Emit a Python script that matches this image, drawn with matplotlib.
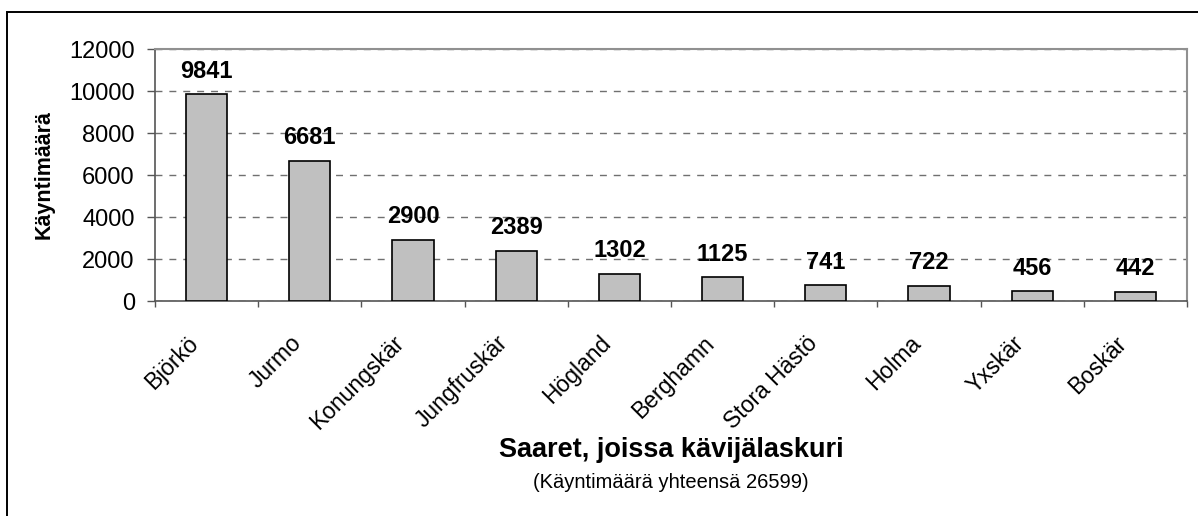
import numpy as np
import matplotlib
matplotlib.use("Agg")
import matplotlib.pyplot as plt
from matplotlib.patches import Rectangle
from matplotlib import transforms

plt.rcParams['font.family'] = ['Liberation Sans', 'DejaVu Sans']

# data
saaret = ['Björkö', 'Jurmo', 'Konungskär', 'Jungfruskär', 'Högland',
          'Berghamn', 'Stora Hästö', 'Holma', 'Yxskär', 'Boskär']
kaynnit = [9841, 6681, 2900, 2389, 1302, 1125, 741, 722, 456, 442]
yhteensa = 26599

W, H = 1198, 516
fig = plt.figure(figsize=(W / 100, H / 100), dpi=100)
ax = fig.add_axes([155 / W, 1 - 301 / H, (1187 - 155) / W, (301 - 49) / H])

x = np.arange(len(saaret))
ax.bar(x, kaynnit, width=0.4, color='#c0c0c0', edgecolor='black', linewidth=1.2, zorder=3)

for xi, v in zip(x, kaynnit):
    ax.annotate(str(v), xy=(xi, v), xytext=(0, 12), textcoords='offset points',
                ha='center', va='baseline', fontsize=17, fontweight='bold', zorder=4)

ax.set_xlim(-0.5, len(saaret) - 0.5)
ax.set_ylim(0, 12000)
ax.set_yticks(np.arange(0, 12001, 2000))
ax.tick_params(axis='y', labelsize=17, length=5.5, width=1, color='#555555', pad=9)

# x: labels at centres, ticks at category borders
ax.set_xticks(x)
ax.set_xticklabels(saaret, rotation=45, ha='right', fontsize=16.5)
ax.tick_params(axis='x', length=0, pad=22)
ax.set_xticks(np.arange(-0.5, len(saaret)), minor=True)
ax.tick_params(axis='x', which='minor', length=4, width=1, color='#555555')
shift = transforms.ScaledTranslation(-4 / 100, 0, fig.dpi_scale_trans)
for lab in ax.get_xticklabels():
    lab.set_transform(lab.get_transform() + shift)

ax.yaxis.grid(True, linestyle=(0, (5, 5)), color='#707070', linewidth=1, zorder=0)
ax.set_axisbelow(True)

for s in ['left', 'bottom']:
    ax.spines[s].set_color('#555555')
    ax.spines[s].set_linewidth(1.2)
for s in ['top', 'right']:
    ax.spines[s].set_color('#909090')
    ax.spines[s].set_linewidth(1.5)

fig.text(44 / W, 1 - 175 / H, 'Käyntimäärä', rotation=90, ha='center', va='center',
         fontsize=15.5, fontweight='bold')
fig.text(671 / W, 1 - 450 / H, 'Saaret, joissa kävijälaskuri', ha='center', va='center',
         fontsize=19.5, fontweight='bold')
fig.text(671 / W, 1 - 482 / H, '(Käyntimäärä yhteensä %d)' % yhteensa, ha='center', va='center',
         fontsize=14.5)

# outer chart border (runs off the right and bottom edges)
fig.add_artist(Rectangle((7 / W, -0.5), 2, 0.5 + 1 - 12 / H, transform=fig.transFigure,
                         fill=False, edgecolor='black', linewidth=1.4, clip_on=False))

fig.savefig('out.png', dpi=100)
